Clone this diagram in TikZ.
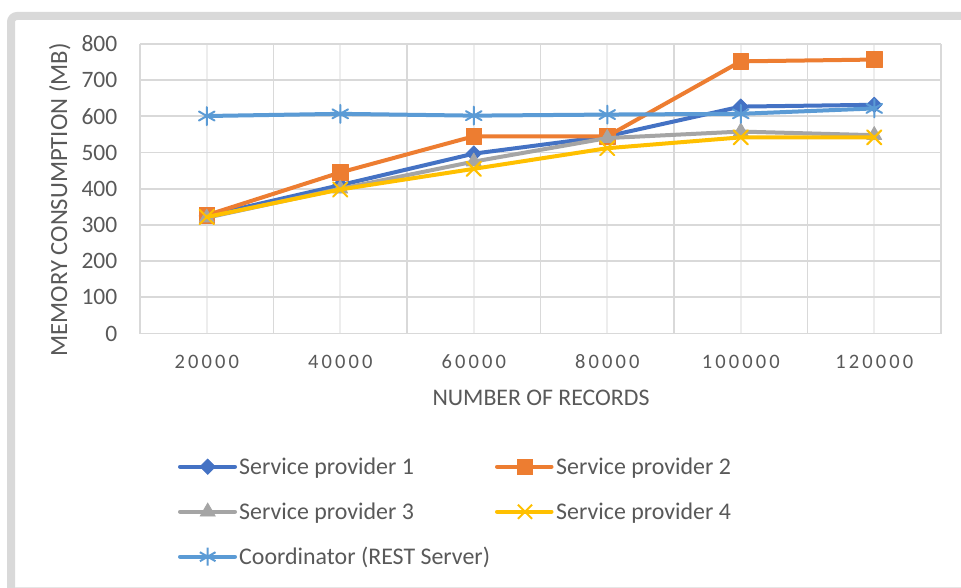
\documentclass[tikz,border=0pt]{standalone}
\usepackage{fontspec}
\setmainfont{Carlito}
\usetikzlibrary{plotmarks}

\definecolor{txtgray}{HTML}{595959}
\definecolor{gridgray}{HTML}{D9D9D9}
\definecolor{minorgray}{HTML}{EDEDED}
\definecolor{framegray}{HTML}{D9D9D9}
\definecolor{edgegray}{HTML}{E6E6E6}
\definecolor{spone}{HTML}{4472C4}
\definecolor{sptwo}{HTML}{ED7D31}
\definecolor{spthree}{HTML}{A5A5A5}
\definecolor{spfour}{HTML}{FFC000}
\definecolor{coord}{HTML}{5B9BD5}

% tracked digits for the category labels
\makeatletter
\def\trk#1{\trk@#1\relax}
\def\trk@#1{\ifx#1\relax\else#1\expandafter\trk@@\fi}
\def\trk@@#1{\ifx#1\relax\else\kern3.1pt#1\expandafter\trk@@\fi}
\makeatother

\tikzset{
  serie/.style={line width=4pt, line join=round, line cap=round},
  majorgrid/.style={draw=gridgray, line width=1.8pt},
  minorgrid/.style={draw=minorgray, line width=1.8pt},
  ytick/.style={anchor=east, inner sep=0pt, text=txtgray, font=\fontsize{23.5}{26}\selectfont},
  xtick/.style={anchor=base, inner sep=0pt, text=txtgray, font=\fontsize{20.5}{24}\selectfont},
  axtitle/.style={anchor=base, inner sep=0pt, text=txtgray, font=\fontsize{23.8}{26}\selectfont},
  legtext/.style={anchor=base west, inner sep=0pt, text=txtgray, font=\fontsize{23.9}{26}\selectfont},
  mkone/.style={mark=square*, mark size=5.4pt, mark options={rotate=45, fill=spone, draw=spone, line width=0.8pt}},
  mktwo/.style={mark=square*, mark size=7.8pt, mark options={fill=sptwo, draw=sptwo, line width=0.8pt}},
  mkthree/.style={mark=triangle*, mark size=8.6pt, mark options={fill=spthree, draw=spthree, line width=0.8pt}},
  mkfour/.style={mark=x, mark size=10pt, mark options={draw=spfour, line width=2pt}},
  mkcoord/.style={mark=asterisk, mark size=9pt, mark options={draw=coord, line width=2pt}},
}

\begin{document}
\begin{tikzpicture}[x=1pt, y=-1pt]
\useasboundingbox (0,0) rectangle (961,588);
\fill[white] (0,0) rectangle (961,588);

% chart frame
\draw[framegray, line width=8pt, rounded corners=6pt] (11,600) -- (11,16) -- (975,16);
\draw[edgegray, line width=1pt] (15,587) -- (961,587);

% gridlines
\foreach \i in {0,...,5}
  \draw[minorgrid] (206.75+133.5*\i,44.5) -- (206.75+133.5*\i,333.5);
\foreach \i in {0,...,6}
  \draw[majorgrid] (140+133.5*\i,44.5) -- (140+133.5*\i,333.5);
\foreach \v in {0,100,...,800}
  \draw[majorgrid] (140,333.5-0.36188*\v) -- (941,333.5-0.36188*\v);

% value axis labels
\foreach \v in {0,100,...,800}
  \node[ytick] (yl\v) at (117.5,333.5-0.36188*\v) {\v};

% category labels
\node[xtick] (xa) at (206.75,368) {\trk{20000}};
\node[xtick] (xb) at (340.25,368) {\trk{40000}};
\node[xtick] (xc) at (473.75,368) {\trk{60000}};
\node[xtick] (xd) at (607.25,368) {\trk{80000}};
\node[xtick] (xe) at (740.75,368) {\trk{100000}};
\node[xtick] (xf) at (874.25,368) {\trk{120000}};

% axis titles
\node[axtitle] (xtitle) at (541,405) {NUMBER OF RECORDS};
\node[axtitle, rotate=90, font=\fontsize{24.7}{27}\selectfont] (ytitle) at (67,200) {MEMORY CONSUMPTION (MB)};

% data series (values in MB, categories 0..5)
\begin{scope}[shift={(206.75,333.5)}, x=133.5pt, y=0.36188pt]
  \draw[serie, spone] plot[mkone] coordinates {(0,325) (1,410) (2,497) (3,545) (4,627) (5,632)};
  \draw[serie, sptwo] plot[mktwo] coordinates {(0,327) (1,445) (2,545) (3,545) (4,752) (5,757)};
  \draw[serie, spthree] plot[mkthree] coordinates {(0,320) (1,400) (2,475) (3,540) (4,558) (5,548)};
  \draw[serie, spfour] plot[mkfour] coordinates {(0,322) (1,398) (2,455) (3,512) (4,542) (5,542)};
  \draw[serie, coord] plot[mkcoord] coordinates {(0,601) (1,607) (2,602) (3,605) (4,607) (5,622)};
\end{scope}

% legend
\draw[serie, spone] (180,466.7) -- (235,466.7);
\draw plot[mkone] coordinates {(207.7,466.7)};
\node[legtext] (l1) at (239,474.2) {Service provider 1};

\draw[serie, sptwo] (497,466.7) -- (551.5,466.7);
\draw plot[mktwo] coordinates {(525,466.7)};
\node[legtext] (l2) at (556,474.2) {Service provider 2};

\draw[serie, spthree] (180,511.7) -- (235,511.7);
\draw plot[mkthree] coordinates {(207.7,511.7)};
\node[legtext] (l3) at (239,519.2) {Service provider 3};

\draw[serie, spfour] (497,511.7) -- (551.5,511.7);
\draw plot[mkfour] coordinates {(525,511.7)};
\node[legtext] (l4) at (556,519.2) {Service provider 4};

\draw[serie, coord] (180,556.7) -- (235,556.7);
\draw plot[mkcoord] coordinates {(207.7,556.7)};
\node[legtext] (l5) at (239,564.2) {Coordinator (REST Server)};
\end{tikzpicture}
\end{document}
